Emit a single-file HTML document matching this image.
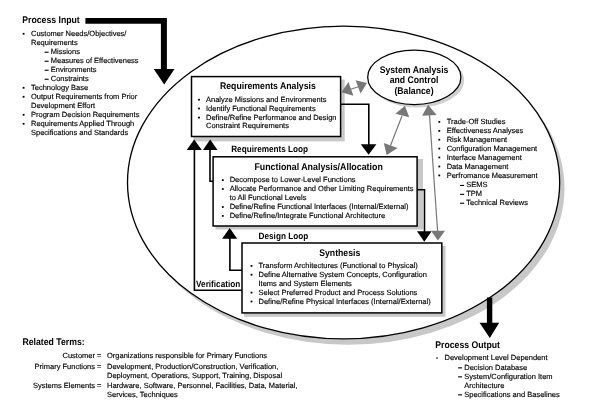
<!DOCTYPE html>
<html><head><meta charset="utf-8">
<style>
html,body{margin:0;padding:0;background:#fff;width:600px;height:413px;overflow:hidden}
svg{display:block;filter:grayscale(1)}
text{font-family:"Liberation Sans",sans-serif;fill:#000}
.r{font-size:7.5px;stroke:#000;stroke-width:0.15px;text-rendering:geometricPrecision}
.b{font-size:8.7px;font-weight:bold;text-rendering:geometricPrecision}
.l{font-size:8.2px;font-weight:bold;text-rendering:geometricPrecision}
</style></head><body>
<svg width="600" height="413" viewBox="0 0 600 413">
<rect width="600" height="413" fill="#fff"/>
<!-- big ellipse -->
<ellipse cx="348.4" cy="188.3" rx="216.1" ry="156.4" fill="#c8c8c8"/>
<ellipse cx="343.6" cy="182.5" rx="216.1" ry="156.4" fill="#fff" stroke="#000" stroke-width="1.3"/>

<!-- Process Input arrow -->
<path d="M85.4 18.1 H166.9 V69.1 H174.5 L164.2 84.6 L153.7 69.1 H160.9 V23.8 H85.4 Z" fill="#000"/>

<!-- Process Input text -->
<text class="b" transform="translate(22.3 23.3) scale(1 1.11)">Process Input</text>
<g class="r">
<text x="31" y="36">Customer Needs/Objectives/</text>
<text x="31" y="45">Requirements</text>
<rect x="44.60" y="51.70" width="4" height="1.1" fill="#000" stroke="none"/><text x="50.75" y="54.0">Missions</text>
<rect x="44.60" y="60.70" width="4" height="1.1" fill="#000" stroke="none"/><text x="50.75" y="63.0">Measures of Effectiveness</text>
<rect x="44.60" y="69.70" width="4" height="1.1" fill="#000" stroke="none"/><text x="50.75" y="72.0">Environments</text>
<rect x="44.60" y="78.70" width="4" height="1.1" fill="#000" stroke="none"/><text x="50.75" y="81.0">Constraints</text>
<text x="31" y="90">Technology Base</text>
<text x="31" y="99">Output Requirements from Prior</text>
<text x="31" y="108">Development Effort</text>
<text x="31" y="117">Program Decision Requirements</text>
<text x="31" y="126">Requirements Applied Through</text>
<text x="31" y="135">Specifications and Standards</text>
</g>
<g fill="#000">
<rect x="22.70" y="32.90" width="1.8" height="1.8"/>
<rect x="22.70" y="86.90" width="1.8" height="1.8"/>
<rect x="22.70" y="95.90" width="1.8" height="1.8"/>
<rect x="22.70" y="113.90" width="1.8" height="1.8"/>
<rect x="22.70" y="122.90" width="1.8" height="1.8"/>
</g>

<!-- SAC ellipse -->
<ellipse cx="417.3" cy="80.3" rx="46.8" ry="27.2" fill="#d0d0d0"/>
<ellipse cx="414.3" cy="77.3" rx="46.6" ry="27.2" fill="#fff" stroke="#000" stroke-width="1.25"/>
<g class="b" text-anchor="middle">
<text transform="translate(414.0 72.5) scale(1 1.11)">System Analysis</text>
<text transform="translate(414.0 83.0) scale(1 1.11)">and Control</text>
<text transform="translate(414.0 94.2) scale(1 1.11)">(Balance)</text>
</g>

<!-- SAC list -->
<g class="r">
<text x="446.7" y="124">Trade-Off Studies</text>
<text x="446.7" y="133">Effectiveness Analyses</text>
<text x="446.7" y="141.8">Risk Management</text>
<text x="446.7" y="150.7">Configuration Management</text>
<text x="446.7" y="159.6">Interface Management</text>
<text x="446.7" y="168.6">Data Management</text>
<text x="446.7" y="177.5">Perfromance Measurement</text>
<rect x="460.10" y="184.90" width="4" height="1.1" fill="#000" stroke="none"/><text x="466.25" y="187.2">SEMS</text>
<rect x="460.10" y="193.80" width="4" height="1.1" fill="#000" stroke="none"/><text x="466.25" y="196.1">TPM</text>
<rect x="460.10" y="202.70" width="4" height="1.1" fill="#000" stroke="none"/><text x="466.25" y="205.0">Technical Reviews</text>
</g>
<g fill="#000">
<rect x="438.40" y="121.00" width="1.8" height="1.8"/>
<rect x="438.40" y="130.00" width="1.8" height="1.8"/>
<rect x="438.40" y="138.80" width="1.8" height="1.8"/>
<rect x="438.40" y="147.70" width="1.8" height="1.8"/>
<rect x="438.40" y="156.60" width="1.8" height="1.8"/>
<rect x="438.40" y="165.60" width="1.8" height="1.8"/>
<rect x="438.40" y="174.50" width="1.8" height="1.8"/>
</g>

<!-- box shadows -->
<rect x="193.5" y="79.5" width="151.2" height="61.9" fill="#c8c8c8"/>
<rect x="215.5" y="159" width="207.5" height="70.5" fill="#c8c8c8"/>
<rect x="244" y="246" width="201.5" height="70.8" fill="#c8c8c8"/>

<!-- RA box -->
<rect x="191.5" y="76.6" width="149.1" height="59.9" fill="#fff" stroke="#000" stroke-width="1.5"/>
<text class="b" transform="translate(220.0 89.0) scale(1 1.11)">Requirements Analysis</text>
<g class="r">
<text x="206" y="101.8">Analyze Missions and Environments</text>
<text x="206" y="110.6">Identify Functional Requirements</text>
<text x="206" y="119.6">Define/Refine Performance and Design</text>
<text x="206" y="128.2">Constraint Requirements</text>
</g>
<g fill="#000">
<rect x="198.10" y="98.80" width="1.8" height="1.8"/>
<rect x="198.10" y="107.60" width="1.8" height="1.8"/>
<rect x="198.10" y="116.70" width="1.8" height="1.8"/>
</g>

<!-- FA box -->
<rect x="213.1" y="156.8" width="204" height="69.2" fill="#fff" stroke="#000" stroke-width="1.5"/>
<text class="b" transform="translate(254.4 169.5) scale(1 1.11)" style="font-size:8.85px">Functional Analysis/Allocation</text>
<g class="r">
<text x="229.7" y="182.3">Decompose to Lower-Level Functions</text>
<text x="229.7" y="191.2">Allocate Performance and Other Limiting Requirements</text>
<text x="229.7" y="200.1">to All Functional Levels</text>
<text x="229.7" y="209">Define/Refine Functional Interfaces (Internal/External)</text>
<text x="229.7" y="217.9">Define/Refine/Integrate Functional Architecture</text>
</g>
<g fill="#000">
<rect x="221.90" y="179.20" width="1.8" height="1.8"/>
<rect x="221.90" y="188.10" width="1.8" height="1.8"/>
<rect x="221.90" y="206.10" width="1.8" height="1.8"/>
<rect x="221.90" y="215.00" width="1.8" height="1.8"/>
</g>

<!-- Synthesis box -->
<rect x="242" y="243" width="199.8" height="69.9" fill="#fff" stroke="#000" stroke-width="1.5"/>
<text class="b" transform="translate(319.2 255.9) scale(1 1.11)">Synthesis</text>
<g class="r">
<text x="258.5" y="268">Transform Architectures (Functional to Physical)</text>
<text x="258.5" y="276.8">Define Alternative System Concepts, Configuration</text>
<text x="258.5" y="285.8">Items and System Elements</text>
<text x="258.5" y="294.7">Select Preferred Product and Process Solutions</text>
<text x="258.5" y="303.6">Define/Refine Physical Interfaces (Internal/External)</text>
</g>
<g fill="#000">
<rect x="250.60" y="265.00" width="1.8" height="1.8"/>
<rect x="250.60" y="273.80" width="1.8" height="1.8"/>
<rect x="250.60" y="291.70" width="1.8" height="1.8"/>
<rect x="250.60" y="300.60" width="1.8" height="1.8"/>
</g>

<!-- loop labels -->
<text class="l" transform="translate(231.2 151.6) scale(1 1.11)">Requirements Loop</text>
<text class="l" transform="translate(258.6 238.6) scale(1 1.11)">Design Loop</text>
<text class="l" transform="translate(196.1 286.7) scale(1 1.11)">Verification</text>

<!-- black connector lines -->
<g fill="none" stroke="#000" stroke-width="1.6">
<path d="M340.6 104.3 H368.8 V145"/>
<path d="M417 189.8 H424.5 V232"/>
<path d="M213 181.3 H210 V149"/>
<path d="M242 290.3 H194.4 V149"/>
<path d="M242 270.3 H229.9 V238"/>
</g>
<g fill="#000">
<path d="M360.8 144.2 H376.4 L368.6 154.8 Z"/>
<path d="M417 231.2 H431.6 L424.3 241.7 Z"/>
<path d="M186.7 150 H201.8 L194.2 139.4 Z"/>
<path d="M203 150 H217.5 L210.2 139.4 Z"/>
<path d="M222.1 238.8 H237.2 L229.7 228 Z"/>
</g>

<!-- gray arrows -->
<g stroke="#787878" stroke-width="1.2" fill="none">
<path d="M350 89.5 L359 86.5"/>
<path d="M402 116 L390.5 145.5"/>
<path d="M429.5 115 L437.6 231"/>
</g>
<g fill="#787878">
<path d="M341.4 92.3 L348.5 82.1 L353.4 95.7 Z"/>
<path d="M367 83 L355.6 80.2 L360.5 93.5 Z"/>
<path d="M404.9 105.8 L395.4 113.8 L409.2 117.2 Z"/>
<path d="M386.7 154.9 L383.8 142.9 L397.6 148 Z"/>
<path d="M428.1 104.7 L422.1 115.8 L436.6 114.9 Z"/>
<path d="M437.9 240.5 L431 230.8 L445 230.8 Z"/>
</g>

<!-- Process Output arrow -->
<path d="M486.9 297.5 H492.3 V322.7 H499.2 L489.8 338 L479.6 322.7 H486.9 Z" fill="#000"/>
<text class="b" transform="translate(435.3 348.3) scale(1 1.11)">Process Output</text>
<g class="r">
<text x="444.5" y="360.2">Development Level Dependent</text>
<rect x="458.10" y="367.30" width="4" height="1.1" fill="#000" stroke="none"/><text x="464.25" y="369.6">Decision Database</text>
<rect x="458.10" y="376.30" width="4" height="1.1" fill="#000" stroke="none"/><text x="464.25" y="378.6">System/Configuration Item</text>
<text x="464.3" y="387.6">Architecture</text>
<rect x="458.10" y="394.30" width="4" height="1.1" fill="#000" stroke="none"/><text x="464.25" y="396.6">Specifications and Baselines</text>
</g>
<circle cx="437" cy="358.1" r="0.8" fill="#000"/>

<!-- Related terms -->
<text class="b" transform="translate(22.5 344.6) scale(1 1.11)">Related Terms:</text>
<g class="r">
<text x="101.5" y="357.5" text-anchor="end">Customer =</text>
<text x="101.5" y="368.6" text-anchor="end">Primary Functions =</text>
<text x="101.5" y="387.6" text-anchor="end">Systems Elements =</text>
<text x="107" y="357.5">Organizations responsible for Primary Functions</text>
<text x="107" y="368.6">Development, Production/Construction, Verification,</text>
<text x="107" y="378">Deployment, Operations, Support, Training, Disposal</text>
<text x="107" y="387.6">Hardware, Software, Personnel, Facilities, Data, Material,</text>
<text x="107" y="396.8">Services, Techniques</text>
</g>
</svg>
</body></html>
